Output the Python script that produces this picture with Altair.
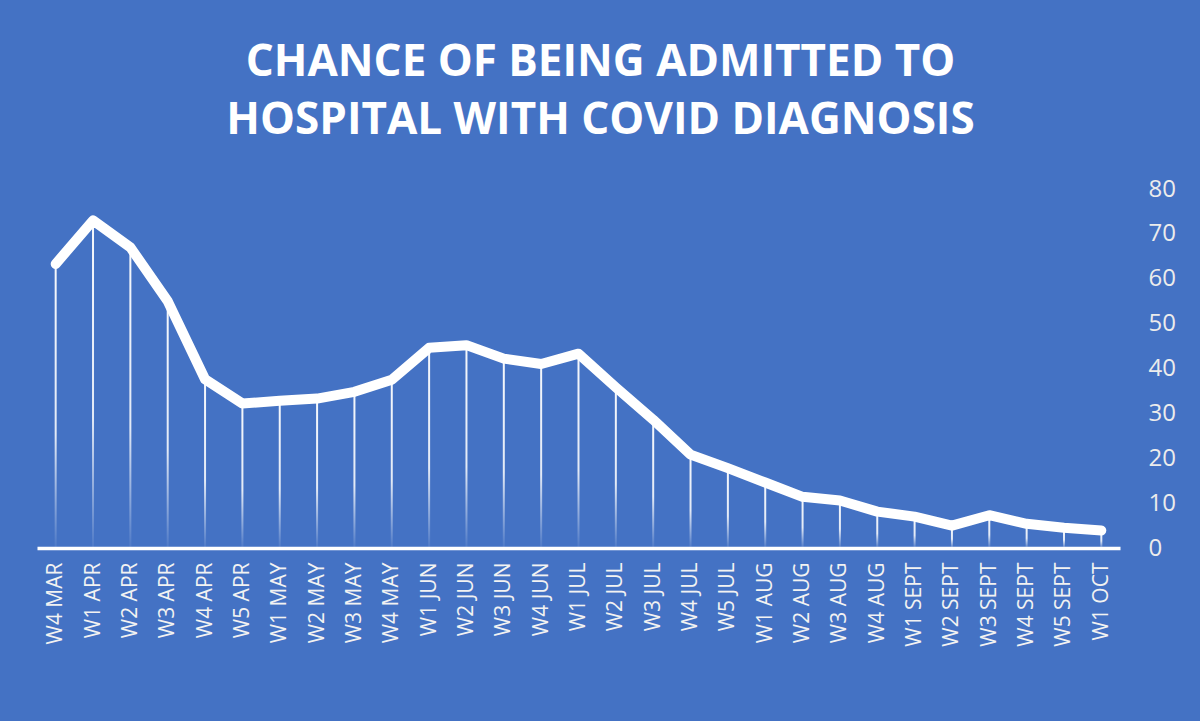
import altair as alt
import pandas as pd

weeks = ["W4 MAR", "W1 APR", "W2 APR", "W3 APR", "W4 APR", "W5 APR",
         "W1 MAY", "W2 MAY", "W3 MAY", "W4 MAY",
         "W1 JUN", "W2 JUN", "W3 JUN", "W4 JUN",
         "W1 JUL", "W2 JUL", "W3 JUL", "W4 JUL", "W5 JUL",
         "W1 AUG", "W2 AUG", "W3 AUG", "W4 AUG",
         "W1 SEPT", "W2 SEPT", "W3 SEPT", "W4 SEPT", "W5 SEPT", "W1 OCT"]
chance = [63.3, 73.0, 67.0, 55.0, 37.6, 32.2,
          32.8, 33.3, 34.8, 37.5,
          44.6, 45.2, 42.2, 41.0,
          43.3, 35.8, 28.6, 20.8, 17.8,
          14.6, 11.4, 10.6, 8.1,
          7.0, 5.0, 7.3, 5.4, 4.5, 3.9]

title_lines = ["CHANCE OF BEING ADMITTED TO", "HOSPITAL WITH COVID DIAGNOSIS"]
y_ticks = [0, 10, 20, 30, 40, 50, 60, 70, 80]

df = pd.DataFrame({"week": weeks, "chance": chance})

BG = "#4472C4"
FONT = "Open Sans"

x_enc = alt.X("week:N", sort=weeks,
              scale=alt.Scale(type="point", padding=0.5),
              axis=alt.Axis(title=None, labelAngle=-90, labelFontSize=21,
                            labelFont=FONT, labelColor="#F2F2F2",
                            labelPadding=14, ticks=False, domain=True,
                            domainColor="white", domainWidth=3.5,
                            labelBaseline="middle", labelAlign="right"))
y_scale = alt.Scale(domain=[0, 80], nice=False)

grad = alt.LinearGradient(
    gradient="linear",
    stops=[alt.GradientStop(color="rgba(255,255,255,0.95)", offset=0),
           alt.GradientStop(color="rgba(255,255,255,0.85)", offset=0.6),
           alt.GradientStop(color="rgba(255,255,255,0.05)", offset=1)],
    x1=0, x2=0, y1=0, y2=1)

drops = alt.Chart(df).mark_bar(size=2, color=grad).encode(
    x=x_enc,
    y=alt.Y("chance:Q", scale=y_scale,
            axis=alt.Axis(orient="right", title=None, values=y_ticks,
                          labelFontSize=24, labelFont=FONT,
                          labelColor="#ECECEC", labelPadding=28,
                          ticks=False, domain=False, grid=False)),
    y2=alt.datum(0),
)

line = alt.Chart(df).mark_line(color="white", strokeWidth=10,
                               strokeCap="round", strokeJoin="round").encode(
    x=alt.X("week:N", sort=weeks),
    y=alt.Y("chance:Q", scale=y_scale),
)

chart = alt.layer(drops, line).properties(
    width=1083, height=359,
    title=alt.TitleParams(text=title_lines, font=FONT, fontSize=44,
                          fontWeight="bold", color="white", anchor="middle",
                          lineHeight=58, offset=34, dx=22),
    autosize=alt.AutoSizeParams(type="none"),
    padding={"left": 37, "top": 189, "right": 80, "bottom": 173},
    background=BG,
).configure_view(stroke=None)

chart.save("out.html", embed_options={"renderer": "svg", "actions": False})
